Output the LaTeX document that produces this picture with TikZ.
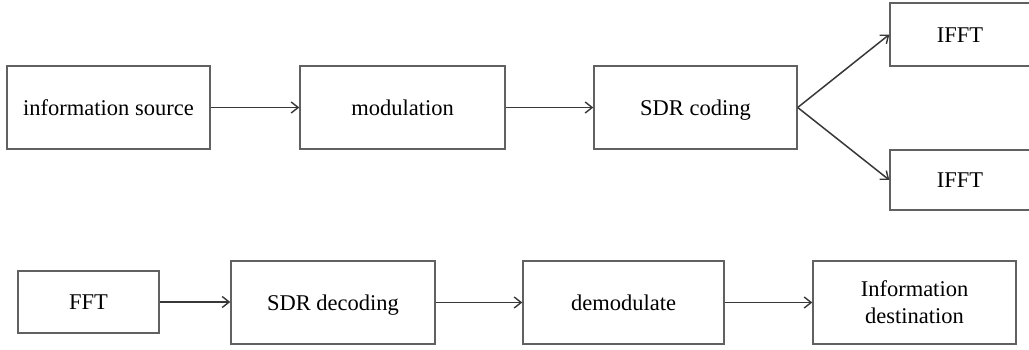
\documentclass[tikz,border=0pt]{standalone}
\usepackage{fontspec}
\setmainfont{Liberation Serif}
\usetikzlibrary{arrows.meta}
\begin{document}
\begin{tikzpicture}[x=1pt,y=1pt,
  box/.style={draw=black!62, line width=1.4pt, fill=white, inner sep=0pt, font=\fontsize{22.5}{27}\selectfont, align=center},
  one/.style={box, text height=18.5pt, text depth=3pt},
  arr/.style={draw=black!78, line width=1.5pt, -{Straight Barb[length=7pt,width=11pt,line width=1.4pt]}}]
\useasboundingbox (0,0) rectangle (1029,349);
\clip (0,0) rectangle (1029,349);
\fill[white] (0,0) rectangle (1029,349);
\node[one, minimum width=203, minimum height=83] (src) at (108.5,241.5) {information source};
\node[one, minimum width=205, minimum height=83] (mod) at (402.5,241.5) {modulation};
\node[one, minimum width=203, minimum height=83] (sdr) at (695.5,241.5) {SDR coding};
\node[one, minimum width=140, minimum height=63] (ifftA) at (960,314.5) {IFFT};
\node[one, minimum width=140, minimum height=60] (ifftB) at (960,169) {IFFT};
\node[one, minimum width=141, minimum height=62] (fft) at (88.5,47) {FFT};
\node[one, minimum width=204, minimum height=83] (dec) at (333,46.5) {SDR decoding};
\node[one, minimum width=201, minimum height=83] (dem) at (623.5,46.5) {demodulate};
\node[box, minimum width=203, minimum height=83] (dst) at (914.5,46.5) {Information\\destination};
\draw[arr] (src) -- (mod);
\draw[arr] (mod) -- (sdr);
\draw[arr] (sdr.east) -- (ifftA.west);
\draw[arr] (sdr.east) -- (ifftB.west);
\draw[arr] (fft) -- (fft -| dec.west);
\draw[arr] (dec) -- (dem);
\draw[arr] (dem) -- (dst);
\end{tikzpicture}
\end{document}
